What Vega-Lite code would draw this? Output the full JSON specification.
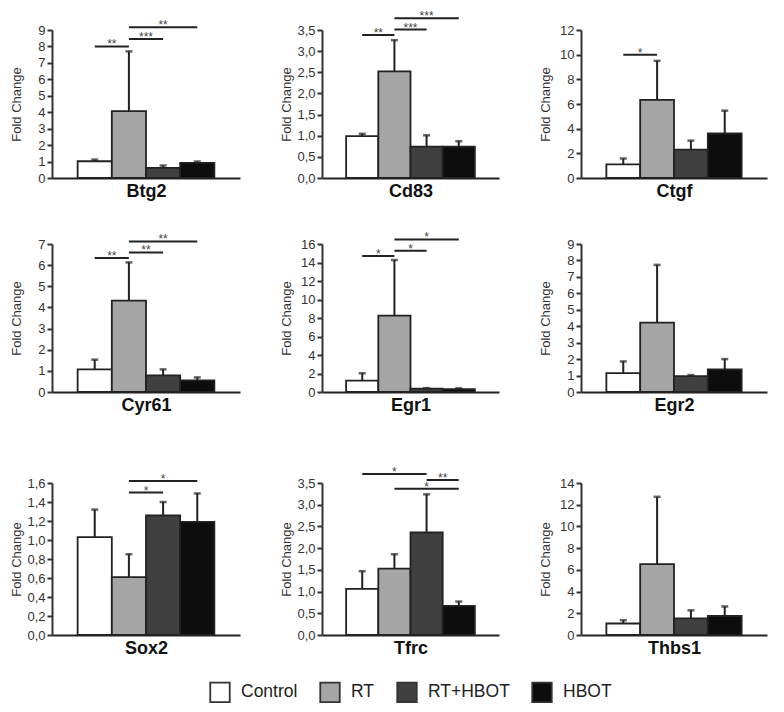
{
  "$schema": "https://vega.github.io/schema/vega-lite/v6.json",
  "background": "white",
  "padding": {"left": 10, "top": 10, "right": 5, "bottom": 5},
  "datasets": {
    "bars": [
      {"gene": "Btg2", "group": "Control", "mean": 1.02, "upper": 1.12},
      {"gene": "Btg2", "group": "RT", "mean": 4.07, "upper": 7.7},
      {"gene": "Btg2", "group": "RT+HBOT", "mean": 0.62, "upper": 0.76},
      {"gene": "Btg2", "group": "HBOT", "mean": 0.92, "upper": 1.0},
      {"gene": "Cd83", "group": "Control", "mean": 0.99, "upper": 1.045},
      {"gene": "Cd83", "group": "RT", "mean": 2.52, "upper": 3.26},
      {"gene": "Cd83", "group": "RT+HBOT", "mean": 0.74, "upper": 1.01},
      {"gene": "Cd83", "group": "HBOT", "mean": 0.74, "upper": 0.87},
      {"gene": "Ctgf", "group": "Control", "mean": 1.11, "upper": 1.58},
      {"gene": "Ctgf", "group": "RT", "mean": 6.33, "upper": 9.5},
      {"gene": "Ctgf", "group": "RT+HBOT", "mean": 2.3, "upper": 3.03},
      {"gene": "Ctgf", "group": "HBOT", "mean": 3.61, "upper": 5.46},
      {"gene": "Cyr61", "group": "Control", "mean": 1.07, "upper": 1.53},
      {"gene": "Cyr61", "group": "RT", "mean": 4.32, "upper": 6.13},
      {"gene": "Cyr61", "group": "RT+HBOT", "mean": 0.79, "upper": 1.07},
      {"gene": "Cyr61", "group": "HBOT", "mean": 0.55, "upper": 0.69},
      {"gene": "Egr1", "group": "Control", "mean": 1.24, "upper": 2.03},
      {"gene": "Egr1", "group": "RT", "mean": 8.26, "upper": 14.27},
      {"gene": "Egr1", "group": "RT+HBOT", "mean": 0.36, "upper": 0.42},
      {"gene": "Egr1", "group": "HBOT", "mean": 0.32, "upper": 0.4},
      {"gene": "Egr2", "group": "Control", "mean": 1.15, "upper": 1.86},
      {"gene": "Egr2", "group": "RT", "mean": 4.22, "upper": 7.73},
      {"gene": "Egr2", "group": "RT+HBOT", "mean": 0.97, "upper": 1.03},
      {"gene": "Egr2", "group": "HBOT", "mean": 1.37, "upper": 2.0},
      {"gene": "Sox2", "group": "Control", "mean": 1.03, "upper": 1.32},
      {"gene": "Sox2", "group": "RT", "mean": 0.61, "upper": 0.85},
      {"gene": "Sox2", "group": "RT+HBOT", "mean": 1.26, "upper": 1.4},
      {"gene": "Sox2", "group": "HBOT", "mean": 1.19, "upper": 1.49},
      {"gene": "Tfrc", "group": "Control", "mean": 1.06, "upper": 1.47},
      {"gene": "Tfrc", "group": "RT", "mean": 1.53, "upper": 1.86},
      {"gene": "Tfrc", "group": "RT+HBOT", "mean": 2.36, "upper": 3.24},
      {"gene": "Tfrc", "group": "HBOT", "mean": 0.67, "upper": 0.77},
      {"gene": "Thbs1", "group": "Control", "mean": 1.06, "upper": 1.36},
      {"gene": "Thbs1", "group": "RT", "mean": 6.53, "upper": 12.73},
      {"gene": "Thbs1", "group": "RT+HBOT", "mean": 1.54, "upper": 2.27},
      {"gene": "Thbs1", "group": "HBOT", "mean": 1.75, "upper": 2.63}
    ],
    "sig": [
      {"gene": "Btg2", "from": "Control", "to": "RT", "level": 8.0, "stars": "**"},
      {"gene": "Btg2", "from": "RT", "to": "RT+HBOT", "level": 8.45, "stars": "***"},
      {"gene": "Btg2", "from": "RT", "to": "HBOT", "level": 9.16, "stars": "**"},
      {"gene": "Cd83", "from": "Control", "to": "RT", "level": 3.38, "stars": "**"},
      {"gene": "Cd83", "from": "RT", "to": "RT+HBOT", "level": 3.51, "stars": "***"},
      {"gene": "Cd83", "from": "RT", "to": "HBOT", "level": 3.78, "stars": "***"},
      {"gene": "Ctgf", "from": "Control", "to": "RT", "level": 10.0, "stars": "*"},
      {"gene": "Cyr61", "from": "Control", "to": "RT", "level": 6.34, "stars": "**"},
      {"gene": "Cyr61", "from": "RT", "to": "RT+HBOT", "level": 6.6, "stars": "**"},
      {"gene": "Cyr61", "from": "RT", "to": "HBOT", "level": 7.12, "stars": "**"},
      {"gene": "Egr1", "from": "Control", "to": "RT", "level": 14.7, "stars": "*"},
      {"gene": "Egr1", "from": "RT", "to": "RT+HBOT", "level": 15.27, "stars": "*"},
      {"gene": "Egr1", "from": "RT", "to": "HBOT", "level": 16.5, "stars": "*"},
      {"gene": "Sox2", "from": "RT", "to": "RT+HBOT", "level": 1.5, "stars": "*"},
      {"gene": "Sox2", "from": "RT", "to": "HBOT", "level": 1.62, "stars": "*"},
      {"gene": "Tfrc", "from": "Control", "to": "RT+HBOT", "level": 3.71, "stars": "*"},
      {"gene": "Tfrc", "from": "RT+HBOT", "to": "HBOT", "level": 3.57, "stars": "**"},
      {"gene": "Tfrc", "from": "RT", "to": "HBOT", "level": 3.37, "stars": "*"}
    ]
  },
  "spacing": 31,
  "vconcat": [
    {
      "hconcat": [
        {
          "width": 188, "height": 148,
          "layer": [
            {"data": {"name": "bars"}, "transform": [{"filter": "datum.gene === 'Btg2'"}], "mark": "bar",
             "encoding": {
               "x": {"field": "group", "type": "nominal", "scale": {"domain": ["Control", "RT", "RT+HBOT", "HBOT"]}, "title": "Btg2"},
               "y": {"field": "mean", "type": "quantitative", "scale": {"domain": [0, 9]}, "axis": {"values": [0, 1, 2, 3, 4, 5, 6, 7, 8, 9], "labelFontSize": 13, "titleFontSize": 13, "labelOverlap": false, "labelFlush": false}, "title": "Fold Change"},
               "color": {"field": "group", "type": "nominal", "scale": {"domain": ["Control", "RT", "RT+HBOT", "HBOT"], "range": ["#ffffff", "#a5a5a5", "#404040", "#0d0d0d"]}}}},
            {"data": {"name": "bars"}, "transform": [{"filter": "datum.gene === 'Btg2'"}], "mark": "rule",
             "encoding": {
               "x": {"field": "group", "type": "nominal", "scale": {"domain": ["Control", "RT", "RT+HBOT", "HBOT"]}, "title": "Btg2"},
               "y": {"field": "mean", "type": "quantitative", "axis": {"values": [0, 1, 2, 3, 4, 5, 6, 7, 8, 9], "labelFontSize": 13, "titleFontSize": 13, "labelOverlap": false, "labelFlush": false}, "title": "Fold Change"}, "y2": {"field": "upper"}}},
            {"data": {"name": "bars"}, "transform": [{"filter": "datum.gene === 'Btg2'"}], "mark": {"type": "tick", "size": 7},
             "encoding": {
               "x": {"field": "group", "type": "nominal", "scale": {"domain": ["Control", "RT", "RT+HBOT", "HBOT"]}, "title": "Btg2"},
               "y": {"field": "upper", "type": "quantitative", "axis": {"values": [0, 1, 2, 3, 4, 5, 6, 7, 8, 9], "labelFontSize": 13, "titleFontSize": 13, "labelOverlap": false, "labelFlush": false}, "title": "Fold Change"}}},
            {"data": {"name": "sig"}, "transform": [{"filter": "datum.gene === 'Btg2'"}], "mark": "rule",
             "encoding": {
               "x": {"field": "from", "type": "nominal", "scale": {"domain": ["Control", "RT", "RT+HBOT", "HBOT"]}, "title": "Btg2"},
               "x2": {"field": "to"},
               "y": {"field": "level", "type": "quantitative", "axis": {"values": [0, 1, 2, 3, 4, 5, 6, 7, 8, 9], "labelFontSize": 13, "titleFontSize": 13, "labelOverlap": false, "labelFlush": false}, "title": "Fold Change"}}},
            {"data": {"name": "sig"}, "transform": [{"filter": "datum.gene === 'Btg2' && indexof(['Control','RT','RT+HBOT','HBOT'], datum.to) - indexof(['Control','RT','RT+HBOT','HBOT'], datum.from) === 1"}], "mark": {"type": "text", "fontSize": 12, "color": "#444444", "baseline": "alphabetic", "dy": 2},
             "encoding": {
               "x": {"field": "from", "type": "nominal", "bandPosition": 1, "scale": {"domain": ["Control", "RT", "RT+HBOT", "HBOT"]}, "title": "Btg2"},
               "y": {"field": "level", "type": "quantitative", "axis": {"values": [0, 1, 2, 3, 4, 5, 6, 7, 8, 9], "labelFontSize": 13, "titleFontSize": 13, "labelOverlap": false, "labelFlush": false}, "title": "Fold Change"},
               "text": {"field": "stars"}}},
            {"data": {"name": "sig"}, "transform": [{"filter": "datum.gene === 'Btg2' && indexof(['Control','RT','RT+HBOT','HBOT'], datum.to) - indexof(['Control','RT','RT+HBOT','HBOT'], datum.from) === 2"}], "mark": {"type": "text", "fontSize": 12, "color": "#444444", "baseline": "alphabetic", "dy": 2},
             "encoding": {
               "x": {"field": "from", "type": "nominal", "bandPosition": 1.5, "scale": {"domain": ["Control", "RT", "RT+HBOT", "HBOT"]}, "title": "Btg2"},
               "y": {"field": "level", "type": "quantitative", "axis": {"values": [0, 1, 2, 3, 4, 5, 6, 7, 8, 9], "labelFontSize": 13, "titleFontSize": 13, "labelOverlap": false, "labelFlush": false}, "title": "Fold Change"},
               "text": {"field": "stars"}}}
          ]
        },
        {
          "width": 177, "height": 148,
          "layer": [
            {"data": {"name": "bars"}, "transform": [{"filter": "datum.gene === 'Cd83'"}], "mark": "bar",
             "encoding": {
               "x": {"field": "group", "type": "nominal", "scale": {"domain": ["Control", "RT", "RT+HBOT", "HBOT"]}, "title": "Cd83"},
               "y": {"field": "mean", "type": "quantitative", "scale": {"domain": [0, 3.5]}, "axis": {"values": [0, 0.5, 1, 1.5, 2, 2.5, 3, 3.5], "format": ".1f", "labelFontSize": 13, "titleFontSize": 13, "labelOverlap": false, "labelFlush": false}, "title": "Fold Change"},
               "color": {"field": "group", "type": "nominal", "scale": {"domain": ["Control", "RT", "RT+HBOT", "HBOT"], "range": ["#ffffff", "#a5a5a5", "#404040", "#0d0d0d"]}}}},
            {"data": {"name": "bars"}, "transform": [{"filter": "datum.gene === 'Cd83'"}], "mark": "rule",
             "encoding": {
               "x": {"field": "group", "type": "nominal", "scale": {"domain": ["Control", "RT", "RT+HBOT", "HBOT"]}, "title": "Cd83"},
               "y": {"field": "mean", "type": "quantitative", "axis": {"values": [0, 0.5, 1, 1.5, 2, 2.5, 3, 3.5], "format": ".1f", "labelFontSize": 13, "titleFontSize": 13, "labelOverlap": false, "labelFlush": false}, "title": "Fold Change"}, "y2": {"field": "upper"}}},
            {"data": {"name": "bars"}, "transform": [{"filter": "datum.gene === 'Cd83'"}], "mark": {"type": "tick", "size": 7},
             "encoding": {
               "x": {"field": "group", "type": "nominal", "scale": {"domain": ["Control", "RT", "RT+HBOT", "HBOT"]}, "title": "Cd83"},
               "y": {"field": "upper", "type": "quantitative", "axis": {"values": [0, 0.5, 1, 1.5, 2, 2.5, 3, 3.5], "format": ".1f", "labelFontSize": 13, "titleFontSize": 13, "labelOverlap": false, "labelFlush": false}, "title": "Fold Change"}}},
            {"data": {"name": "sig"}, "transform": [{"filter": "datum.gene === 'Cd83'"}], "mark": "rule",
             "encoding": {
               "x": {"field": "from", "type": "nominal", "scale": {"domain": ["Control", "RT", "RT+HBOT", "HBOT"]}, "title": "Cd83"},
               "x2": {"field": "to"},
               "y": {"field": "level", "type": "quantitative", "axis": {"values": [0, 0.5, 1, 1.5, 2, 2.5, 3, 3.5], "format": ".1f", "labelFontSize": 13, "titleFontSize": 13, "labelOverlap": false, "labelFlush": false}, "title": "Fold Change"}}},
            {"data": {"name": "sig"}, "transform": [{"filter": "datum.gene === 'Cd83' && indexof(['Control','RT','RT+HBOT','HBOT'], datum.to) - indexof(['Control','RT','RT+HBOT','HBOT'], datum.from) === 1"}], "mark": {"type": "text", "fontSize": 12, "color": "#444444", "baseline": "alphabetic", "dy": 2},
             "encoding": {
               "x": {"field": "from", "type": "nominal", "bandPosition": 1, "scale": {"domain": ["Control", "RT", "RT+HBOT", "HBOT"]}, "title": "Cd83"},
               "y": {"field": "level", "type": "quantitative", "axis": {"values": [0, 0.5, 1, 1.5, 2, 2.5, 3, 3.5], "format": ".1f", "labelFontSize": 13, "titleFontSize": 13, "labelOverlap": false, "labelFlush": false}, "title": "Fold Change"},
               "text": {"field": "stars"}}},
            {"data": {"name": "sig"}, "transform": [{"filter": "datum.gene === 'Cd83' && indexof(['Control','RT','RT+HBOT','HBOT'], datum.to) - indexof(['Control','RT','RT+HBOT','HBOT'], datum.from) === 2"}], "mark": {"type": "text", "fontSize": 12, "color": "#444444", "baseline": "alphabetic", "dy": 2},
             "encoding": {
               "x": {"field": "from", "type": "nominal", "bandPosition": 1.5, "scale": {"domain": ["Control", "RT", "RT+HBOT", "HBOT"]}, "title": "Cd83"},
               "y": {"field": "level", "type": "quantitative", "axis": {"values": [0, 0.5, 1, 1.5, 2, 2.5, 3, 3.5], "format": ".1f", "labelFontSize": 13, "titleFontSize": 13, "labelOverlap": false, "labelFlush": false}, "title": "Fold Change"},
               "text": {"field": "stars"}}}
          ]
        },
        {
          "width": 186, "height": 148,
          "layer": [
            {"data": {"name": "bars"}, "transform": [{"filter": "datum.gene === 'Ctgf'"}], "mark": "bar",
             "encoding": {
               "x": {"field": "group", "type": "nominal", "scale": {"domain": ["Control", "RT", "RT+HBOT", "HBOT"]}, "title": "Ctgf"},
               "y": {"field": "mean", "type": "quantitative", "scale": {"domain": [0, 12]}, "axis": {"values": [0, 2, 4, 6, 8, 10, 12], "labelFontSize": 13, "titleFontSize": 13, "labelOverlap": false, "labelFlush": false}, "title": "Fold Change"},
               "color": {"field": "group", "type": "nominal", "scale": {"domain": ["Control", "RT", "RT+HBOT", "HBOT"], "range": ["#ffffff", "#a5a5a5", "#404040", "#0d0d0d"]}}}},
            {"data": {"name": "bars"}, "transform": [{"filter": "datum.gene === 'Ctgf'"}], "mark": "rule",
             "encoding": {
               "x": {"field": "group", "type": "nominal", "scale": {"domain": ["Control", "RT", "RT+HBOT", "HBOT"]}, "title": "Ctgf"},
               "y": {"field": "mean", "type": "quantitative", "axis": {"values": [0, 2, 4, 6, 8, 10, 12], "labelFontSize": 13, "titleFontSize": 13, "labelOverlap": false, "labelFlush": false}, "title": "Fold Change"}, "y2": {"field": "upper"}}},
            {"data": {"name": "bars"}, "transform": [{"filter": "datum.gene === 'Ctgf'"}], "mark": {"type": "tick", "size": 7},
             "encoding": {
               "x": {"field": "group", "type": "nominal", "scale": {"domain": ["Control", "RT", "RT+HBOT", "HBOT"]}, "title": "Ctgf"},
               "y": {"field": "upper", "type": "quantitative", "axis": {"values": [0, 2, 4, 6, 8, 10, 12], "labelFontSize": 13, "titleFontSize": 13, "labelOverlap": false, "labelFlush": false}, "title": "Fold Change"}}},
            {"data": {"name": "sig"}, "transform": [{"filter": "datum.gene === 'Ctgf'"}], "mark": "rule",
             "encoding": {
               "x": {"field": "from", "type": "nominal", "scale": {"domain": ["Control", "RT", "RT+HBOT", "HBOT"]}, "title": "Ctgf"},
               "x2": {"field": "to"},
               "y": {"field": "level", "type": "quantitative", "axis": {"values": [0, 2, 4, 6, 8, 10, 12], "labelFontSize": 13, "titleFontSize": 13, "labelOverlap": false, "labelFlush": false}, "title": "Fold Change"}}},
            {"data": {"name": "sig"}, "transform": [{"filter": "datum.gene === 'Ctgf'"}], "mark": {"type": "text", "fontSize": 12, "color": "#444444", "baseline": "alphabetic", "dy": 2},
             "encoding": {
               "x": {"field": "from", "type": "nominal", "bandPosition": 1, "scale": {"domain": ["Control", "RT", "RT+HBOT", "HBOT"]}, "title": "Ctgf"},
               "y": {"field": "level", "type": "quantitative", "axis": {"values": [0, 2, 4, 6, 8, 10, 12], "labelFontSize": 13, "titleFontSize": 13, "labelOverlap": false, "labelFlush": false}, "title": "Fold Change"},
               "text": {"field": "stars"}}}
          ]
        }
      ],
      "spacing": 40
    },
    {
      "spacing": 51,
      "vconcat": [
        {
          "hconcat": [
            {
              "width": 188, "height": 148,
              "layer": [
                {"data": {"name": "bars"}, "transform": [{"filter": "datum.gene === 'Cyr61'"}], "mark": "bar",
                 "encoding": {
                   "x": {"field": "group", "type": "nominal", "scale": {"domain": ["Control", "RT", "RT+HBOT", "HBOT"]}, "title": "Cyr61"},
                   "y": {"field": "mean", "type": "quantitative", "scale": {"domain": [0, 7]}, "axis": {"values": [0, 1, 2, 3, 4, 5, 6, 7], "labelFontSize": 13, "titleFontSize": 13, "labelOverlap": false, "labelFlush": false}, "title": "Fold Change"},
                   "color": {"field": "group", "type": "nominal", "scale": {"domain": ["Control", "RT", "RT+HBOT", "HBOT"], "range": ["#ffffff", "#a5a5a5", "#404040", "#0d0d0d"]}}}},
                {"data": {"name": "bars"}, "transform": [{"filter": "datum.gene === 'Cyr61'"}], "mark": "rule",
                 "encoding": {
                   "x": {"field": "group", "type": "nominal", "scale": {"domain": ["Control", "RT", "RT+HBOT", "HBOT"]}, "title": "Cyr61"},
                   "y": {"field": "mean", "type": "quantitative", "axis": {"values": [0, 1, 2, 3, 4, 5, 6, 7], "labelFontSize": 13, "titleFontSize": 13, "labelOverlap": false, "labelFlush": false}, "title": "Fold Change"}, "y2": {"field": "upper"}}},
                {"data": {"name": "bars"}, "transform": [{"filter": "datum.gene === 'Cyr61'"}], "mark": {"type": "tick", "size": 7},
                 "encoding": {
                   "x": {"field": "group", "type": "nominal", "scale": {"domain": ["Control", "RT", "RT+HBOT", "HBOT"]}, "title": "Cyr61"},
                   "y": {"field": "upper", "type": "quantitative", "axis": {"values": [0, 1, 2, 3, 4, 5, 6, 7], "labelFontSize": 13, "titleFontSize": 13, "labelOverlap": false, "labelFlush": false}, "title": "Fold Change"}}},
                {"data": {"name": "sig"}, "transform": [{"filter": "datum.gene === 'Cyr61'"}], "mark": "rule",
                 "encoding": {
                   "x": {"field": "from", "type": "nominal", "scale": {"domain": ["Control", "RT", "RT+HBOT", "HBOT"]}, "title": "Cyr61"},
                   "x2": {"field": "to"},
                   "y": {"field": "level", "type": "quantitative", "axis": {"values": [0, 1, 2, 3, 4, 5, 6, 7], "labelFontSize": 13, "titleFontSize": 13, "labelOverlap": false, "labelFlush": false}, "title": "Fold Change"}}},
                {"data": {"name": "sig"}, "transform": [{"filter": "datum.gene === 'Cyr61' && indexof(['Control','RT','RT+HBOT','HBOT'], datum.to) - indexof(['Control','RT','RT+HBOT','HBOT'], datum.from) === 1"}], "mark": {"type": "text", "fontSize": 12, "color": "#444444", "baseline": "alphabetic", "dy": 2},
                 "encoding": {
                   "x": {"field": "from", "type": "nominal", "bandPosition": 1, "scale": {"domain": ["Control", "RT", "RT+HBOT", "HBOT"]}, "title": "Cyr61"},
                   "y": {"field": "level", "type": "quantitative", "axis": {"values": [0, 1, 2, 3, 4, 5, 6, 7], "labelFontSize": 13, "titleFontSize": 13, "labelOverlap": false, "labelFlush": false}, "title": "Fold Change"},
                   "text": {"field": "stars"}}},
                {"data": {"name": "sig"}, "transform": [{"filter": "datum.gene === 'Cyr61' && indexof(['Control','RT','RT+HBOT','HBOT'], datum.to) - indexof(['Control','RT','RT+HBOT','HBOT'], datum.from) === 2"}], "mark": {"type": "text", "fontSize": 12, "color": "#444444", "baseline": "alphabetic", "dy": 2},
                 "encoding": {
                   "x": {"field": "from", "type": "nominal", "bandPosition": 1.5, "scale": {"domain": ["Control", "RT", "RT+HBOT", "HBOT"]}, "title": "Cyr61"},
                   "y": {"field": "level", "type": "quantitative", "axis": {"values": [0, 1, 2, 3, 4, 5, 6, 7], "labelFontSize": 13, "titleFontSize": 13, "labelOverlap": false, "labelFlush": false}, "title": "Fold Change"},
                   "text": {"field": "stars"}}}
              ]
            },
            {
              "width": 177, "height": 148,
              "layer": [
                {"data": {"name": "bars"}, "transform": [{"filter": "datum.gene === 'Egr1'"}], "mark": "bar",
                 "encoding": {
                   "x": {"field": "group", "type": "nominal", "scale": {"domain": ["Control", "RT", "RT+HBOT", "HBOT"]}, "title": "Egr1"},
                   "y": {"field": "mean", "type": "quantitative", "scale": {"domain": [0, 16]}, "axis": {"values": [0, 2, 4, 6, 8, 10, 12, 14, 16], "labelFontSize": 13, "titleFontSize": 13, "labelOverlap": false, "labelFlush": false}, "title": "Fold Change"},
                   "color": {"field": "group", "type": "nominal", "scale": {"domain": ["Control", "RT", "RT+HBOT", "HBOT"], "range": ["#ffffff", "#a5a5a5", "#404040", "#0d0d0d"]}}}},
                {"data": {"name": "bars"}, "transform": [{"filter": "datum.gene === 'Egr1'"}], "mark": "rule",
                 "encoding": {
                   "x": {"field": "group", "type": "nominal", "scale": {"domain": ["Control", "RT", "RT+HBOT", "HBOT"]}, "title": "Egr1"},
                   "y": {"field": "mean", "type": "quantitative", "axis": {"values": [0, 2, 4, 6, 8, 10, 12, 14, 16], "labelFontSize": 13, "titleFontSize": 13, "labelOverlap": false, "labelFlush": false}, "title": "Fold Change"}, "y2": {"field": "upper"}}},
                {"data": {"name": "bars"}, "transform": [{"filter": "datum.gene === 'Egr1'"}], "mark": {"type": "tick", "size": 7},
                 "encoding": {
                   "x": {"field": "group", "type": "nominal", "scale": {"domain": ["Control", "RT", "RT+HBOT", "HBOT"]}, "title": "Egr1"},
                   "y": {"field": "upper", "type": "quantitative", "axis": {"values": [0, 2, 4, 6, 8, 10, 12, 14, 16], "labelFontSize": 13, "titleFontSize": 13, "labelOverlap": false, "labelFlush": false}, "title": "Fold Change"}}},
                {"data": {"name": "sig"}, "transform": [{"filter": "datum.gene === 'Egr1'"}], "mark": "rule",
                 "encoding": {
                   "x": {"field": "from", "type": "nominal", "scale": {"domain": ["Control", "RT", "RT+HBOT", "HBOT"]}, "title": "Egr1"},
                   "x2": {"field": "to"},
                   "y": {"field": "level", "type": "quantitative", "axis": {"values": [0, 2, 4, 6, 8, 10, 12, 14, 16], "labelFontSize": 13, "titleFontSize": 13, "labelOverlap": false, "labelFlush": false}, "title": "Fold Change"}}},
                {"data": {"name": "sig"}, "transform": [{"filter": "datum.gene === 'Egr1' && indexof(['Control','RT','RT+HBOT','HBOT'], datum.to) - indexof(['Control','RT','RT+HBOT','HBOT'], datum.from) === 1"}], "mark": {"type": "text", "fontSize": 12, "color": "#444444", "baseline": "alphabetic", "dy": 2},
                 "encoding": {
                   "x": {"field": "from", "type": "nominal", "bandPosition": 1, "scale": {"domain": ["Control", "RT", "RT+HBOT", "HBOT"]}, "title": "Egr1"},
                   "y": {"field": "level", "type": "quantitative", "axis": {"values": [0, 2, 4, 6, 8, 10, 12, 14, 16], "labelFontSize": 13, "titleFontSize": 13, "labelOverlap": false, "labelFlush": false}, "title": "Fold Change"},
                   "text": {"field": "stars"}}},
                {"data": {"name": "sig"}, "transform": [{"filter": "datum.gene === 'Egr1' && indexof(['Control','RT','RT+HBOT','HBOT'], datum.to) - indexof(['Control','RT','RT+HBOT','HBOT'], datum.from) === 2"}], "mark": {"type": "text", "fontSize": 12, "color": "#444444", "baseline": "alphabetic", "dy": 2},
                 "encoding": {
                   "x": {"field": "from", "type": "nominal", "bandPosition": 1.5, "scale": {"domain": ["Control", "RT", "RT+HBOT", "HBOT"]}, "title": "Egr1"},
                   "y": {"field": "level", "type": "quantitative", "axis": {"values": [0, 2, 4, 6, 8, 10, 12, 14, 16], "labelFontSize": 13, "titleFontSize": 13, "labelOverlap": false, "labelFlush": false}, "title": "Fold Change"},
                   "text": {"field": "stars"}}}
              ]
            },
            {
              "width": 186, "height": 148,
              "layer": [
                {"data": {"name": "bars"}, "transform": [{"filter": "datum.gene === 'Egr2'"}], "mark": "bar",
                 "encoding": {
                   "x": {"field": "group", "type": "nominal", "scale": {"domain": ["Control", "RT", "RT+HBOT", "HBOT"]}, "title": "Egr2"},
                   "y": {"field": "mean", "type": "quantitative", "scale": {"domain": [0, 9]}, "axis": {"values": [0, 1, 2, 3, 4, 5, 6, 7, 8, 9], "labelFontSize": 13, "titleFontSize": 13, "labelOverlap": false, "labelFlush": false}, "title": "Fold Change"},
                   "color": {"field": "group", "type": "nominal", "scale": {"domain": ["Control", "RT", "RT+HBOT", "HBOT"], "range": ["#ffffff", "#a5a5a5", "#404040", "#0d0d0d"]}}}},
                {"data": {"name": "bars"}, "transform": [{"filter": "datum.gene === 'Egr2'"}], "mark": "rule",
                 "encoding": {
                   "x": {"field": "group", "type": "nominal", "scale": {"domain": ["Control", "RT", "RT+HBOT", "HBOT"]}, "title": "Egr2"},
                   "y": {"field": "mean", "type": "quantitative", "axis": {"values": [0, 1, 2, 3, 4, 5, 6, 7, 8, 9], "labelFontSize": 13, "titleFontSize": 13, "labelOverlap": false, "labelFlush": false}, "title": "Fold Change"}, "y2": {"field": "upper"}}},
                {"data": {"name": "bars"}, "transform": [{"filter": "datum.gene === 'Egr2'"}], "mark": {"type": "tick", "size": 7},
                 "encoding": {
                   "x": {"field": "group", "type": "nominal", "scale": {"domain": ["Control", "RT", "RT+HBOT", "HBOT"]}, "title": "Egr2"},
                   "y": {"field": "upper", "type": "quantitative", "axis": {"values": [0, 1, 2, 3, 4, 5, 6, 7, 8, 9], "labelFontSize": 13, "titleFontSize": 13, "labelOverlap": false, "labelFlush": false}, "title": "Fold Change"}}}
              ]
            }
          ],
          "spacing": 40
        },
        {
          "hconcat": [
            {
              "width": 188, "height": 152,
              "layer": [
                {"data": {"name": "bars"}, "transform": [{"filter": "datum.gene === 'Sox2'"}], "mark": "bar",
                 "encoding": {
                   "x": {"field": "group", "type": "nominal", "scale": {"domain": ["Control", "RT", "RT+HBOT", "HBOT"]}, "title": "Sox2"},
                   "y": {"field": "mean", "type": "quantitative", "scale": {"domain": [0, 1.6]}, "axis": {"values": [0, 0.2, 0.4, 0.6, 0.8, 1.0, 1.2, 1.4, 1.6], "format": ".1f", "labelFontSize": 13, "titleFontSize": 13, "labelOverlap": false, "labelFlush": false}, "title": "Fold Change"},
                   "color": {"field": "group", "type": "nominal", "scale": {"domain": ["Control", "RT", "RT+HBOT", "HBOT"], "range": ["#ffffff", "#a5a5a5", "#404040", "#0d0d0d"]}}}},
                {"data": {"name": "bars"}, "transform": [{"filter": "datum.gene === 'Sox2'"}], "mark": "rule",
                 "encoding": {
                   "x": {"field": "group", "type": "nominal", "scale": {"domain": ["Control", "RT", "RT+HBOT", "HBOT"]}, "title": "Sox2"},
                   "y": {"field": "mean", "type": "quantitative", "axis": {"values": [0, 0.2, 0.4, 0.6, 0.8, 1.0, 1.2, 1.4, 1.6], "format": ".1f", "labelFontSize": 13, "titleFontSize": 13, "labelOverlap": false, "labelFlush": false}, "title": "Fold Change"}, "y2": {"field": "upper"}}},
                {"data": {"name": "bars"}, "transform": [{"filter": "datum.gene === 'Sox2'"}], "mark": {"type": "tick", "size": 7},
                 "encoding": {
                   "x": {"field": "group", "type": "nominal", "scale": {"domain": ["Control", "RT", "RT+HBOT", "HBOT"]}, "title": "Sox2"},
                   "y": {"field": "upper", "type": "quantitative", "axis": {"values": [0, 0.2, 0.4, 0.6, 0.8, 1.0, 1.2, 1.4, 1.6], "format": ".1f", "labelFontSize": 13, "titleFontSize": 13, "labelOverlap": false, "labelFlush": false}, "title": "Fold Change"}}},
                {"data": {"name": "sig"}, "transform": [{"filter": "datum.gene === 'Sox2'"}], "mark": "rule",
                 "encoding": {
                   "x": {"field": "from", "type": "nominal", "scale": {"domain": ["Control", "RT", "RT+HBOT", "HBOT"]}, "title": "Sox2"},
                   "x2": {"field": "to"},
                   "y": {"field": "level", "type": "quantitative", "axis": {"values": [0, 0.2, 0.4, 0.6, 0.8, 1.0, 1.2, 1.4, 1.6], "format": ".1f", "labelFontSize": 13, "titleFontSize": 13, "labelOverlap": false, "labelFlush": false}, "title": "Fold Change"}}},
                {"data": {"name": "sig"}, "transform": [{"filter": "datum.gene === 'Sox2' && indexof(['Control','RT','RT+HBOT','HBOT'], datum.to) - indexof(['Control','RT','RT+HBOT','HBOT'], datum.from) === 1"}], "mark": {"type": "text", "fontSize": 12, "color": "#444444", "baseline": "alphabetic", "dy": 2},
                 "encoding": {
                   "x": {"field": "from", "type": "nominal", "bandPosition": 1, "scale": {"domain": ["Control", "RT", "RT+HBOT", "HBOT"]}, "title": "Sox2"},
                   "y": {"field": "level", "type": "quantitative", "axis": {"values": [0, 0.2, 0.4, 0.6, 0.8, 1.0, 1.2, 1.4, 1.6], "format": ".1f", "labelFontSize": 13, "titleFontSize": 13, "labelOverlap": false, "labelFlush": false}, "title": "Fold Change"},
                   "text": {"field": "stars"}}},
                {"data": {"name": "sig"}, "transform": [{"filter": "datum.gene === 'Sox2' && indexof(['Control','RT','RT+HBOT','HBOT'], datum.to) - indexof(['Control','RT','RT+HBOT','HBOT'], datum.from) === 2"}], "mark": {"type": "text", "fontSize": 12, "color": "#444444", "baseline": "alphabetic", "dy": 2},
                 "encoding": {
                   "x": {"field": "from", "type": "nominal", "bandPosition": 1.5, "scale": {"domain": ["Control", "RT", "RT+HBOT", "HBOT"]}, "title": "Sox2"},
                   "y": {"field": "level", "type": "quantitative", "axis": {"values": [0, 0.2, 0.4, 0.6, 0.8, 1.0, 1.2, 1.4, 1.6], "format": ".1f", "labelFontSize": 13, "titleFontSize": 13, "labelOverlap": false, "labelFlush": false}, "title": "Fold Change"},
                   "text": {"field": "stars"}}}
              ]
            },
            {
              "width": 177, "height": 152,
              "layer": [
                {"data": {"name": "bars"}, "transform": [{"filter": "datum.gene === 'Tfrc'"}], "mark": "bar",
                 "encoding": {
                   "x": {"field": "group", "type": "nominal", "scale": {"domain": ["Control", "RT", "RT+HBOT", "HBOT"]}, "title": "Tfrc"},
                   "y": {"field": "mean", "type": "quantitative", "scale": {"domain": [0, 3.5]}, "axis": {"values": [0, 0.5, 1, 1.5, 2, 2.5, 3, 3.5], "format": ".1f", "labelFontSize": 13, "titleFontSize": 13, "labelOverlap": false, "labelFlush": false}, "title": "Fold Change"},
                   "color": {"field": "group", "type": "nominal", "scale": {"domain": ["Control", "RT", "RT+HBOT", "HBOT"], "range": ["#ffffff", "#a5a5a5", "#404040", "#0d0d0d"]}}}},
                {"data": {"name": "bars"}, "transform": [{"filter": "datum.gene === 'Tfrc'"}], "mark": "rule",
                 "encoding": {
                   "x": {"field": "group", "type": "nominal", "scale": {"domain": ["Control", "RT", "RT+HBOT", "HBOT"]}, "title": "Tfrc"},
                   "y": {"field": "mean", "type": "quantitative", "axis": {"values": [0, 0.5, 1, 1.5, 2, 2.5, 3, 3.5], "format": ".1f", "labelFontSize": 13, "titleFontSize": 13, "labelOverlap": false, "labelFlush": false}, "title": "Fold Change"}, "y2": {"field": "upper"}}},
                {"data": {"name": "bars"}, "transform": [{"filter": "datum.gene === 'Tfrc'"}], "mark": {"type": "tick", "size": 7},
                 "encoding": {
                   "x": {"field": "group", "type": "nominal", "scale": {"domain": ["Control", "RT", "RT+HBOT", "HBOT"]}, "title": "Tfrc"},
                   "y": {"field": "upper", "type": "quantitative", "axis": {"values": [0, 0.5, 1, 1.5, 2, 2.5, 3, 3.5], "format": ".1f", "labelFontSize": 13, "titleFontSize": 13, "labelOverlap": false, "labelFlush": false}, "title": "Fold Change"}}},
                {"data": {"name": "sig"}, "transform": [{"filter": "datum.gene === 'Tfrc'"}], "mark": "rule",
                 "encoding": {
                   "x": {"field": "from", "type": "nominal", "scale": {"domain": ["Control", "RT", "RT+HBOT", "HBOT"]}, "title": "Tfrc"},
                   "x2": {"field": "to"},
                   "y": {"field": "level", "type": "quantitative", "axis": {"values": [0, 0.5, 1, 1.5, 2, 2.5, 3, 3.5], "format": ".1f", "labelFontSize": 13, "titleFontSize": 13, "labelOverlap": false, "labelFlush": false}, "title": "Fold Change"}}},
                {"data": {"name": "sig"}, "transform": [{"filter": "datum.gene === 'Tfrc' && indexof(['Control','RT','RT+HBOT','HBOT'], datum.to) - indexof(['Control','RT','RT+HBOT','HBOT'], datum.from) === 1"}], "mark": {"type": "text", "fontSize": 12, "color": "#444444", "baseline": "alphabetic", "dy": 2},
                 "encoding": {
                   "x": {"field": "from", "type": "nominal", "bandPosition": 1, "scale": {"domain": ["Control", "RT", "RT+HBOT", "HBOT"]}, "title": "Tfrc"},
                   "y": {"field": "level", "type": "quantitative", "axis": {"values": [0, 0.5, 1, 1.5, 2, 2.5, 3, 3.5], "format": ".1f", "labelFontSize": 13, "titleFontSize": 13, "labelOverlap": false, "labelFlush": false}, "title": "Fold Change"},
                   "text": {"field": "stars"}}},
                {"data": {"name": "sig"}, "transform": [{"filter": "datum.gene === 'Tfrc' && indexof(['Control','RT','RT+HBOT','HBOT'], datum.to) - indexof(['Control','RT','RT+HBOT','HBOT'], datum.from) === 2"}], "mark": {"type": "text", "fontSize": 12, "color": "#444444", "baseline": "alphabetic", "dy": 2},
                 "encoding": {
                   "x": {"field": "from", "type": "nominal", "bandPosition": 1.5, "scale": {"domain": ["Control", "RT", "RT+HBOT", "HBOT"]}, "title": "Tfrc"},
                   "y": {"field": "level", "type": "quantitative", "axis": {"values": [0, 0.5, 1, 1.5, 2, 2.5, 3, 3.5], "format": ".1f", "labelFontSize": 13, "titleFontSize": 13, "labelOverlap": false, "labelFlush": false}, "title": "Fold Change"},
                   "text": {"field": "stars"}}}
              ]
            },
            {
              "width": 186, "height": 152,
              "layer": [
                {"data": {"name": "bars"}, "transform": [{"filter": "datum.gene === 'Thbs1'"}], "mark": "bar",
                 "encoding": {
                   "x": {"field": "group", "type": "nominal", "scale": {"domain": ["Control", "RT", "RT+HBOT", "HBOT"]}, "title": "Thbs1"},
                   "y": {"field": "mean", "type": "quantitative", "scale": {"domain": [0, 14]}, "axis": {"values": [0, 2, 4, 6, 8, 10, 12, 14], "labelFontSize": 13, "titleFontSize": 13, "labelOverlap": false, "labelFlush": false}, "title": "Fold Change"},
                   "color": {"field": "group", "type": "nominal", "scale": {"domain": ["Control", "RT", "RT+HBOT", "HBOT"], "range": ["#ffffff", "#a5a5a5", "#404040", "#0d0d0d"]}}}},
                {"data": {"name": "bars"}, "transform": [{"filter": "datum.gene === 'Thbs1'"}], "mark": "rule",
                 "encoding": {
                   "x": {"field": "group", "type": "nominal", "scale": {"domain": ["Control", "RT", "RT+HBOT", "HBOT"]}, "title": "Thbs1"},
                   "y": {"field": "mean", "type": "quantitative", "axis": {"values": [0, 2, 4, 6, 8, 10, 12, 14], "labelFontSize": 13, "titleFontSize": 13, "labelOverlap": false, "labelFlush": false}, "title": "Fold Change"}, "y2": {"field": "upper"}}},
                {"data": {"name": "bars"}, "transform": [{"filter": "datum.gene === 'Thbs1'"}], "mark": {"type": "tick", "size": 7},
                 "encoding": {
                   "x": {"field": "group", "type": "nominal", "scale": {"domain": ["Control", "RT", "RT+HBOT", "HBOT"]}, "title": "Thbs1"},
                   "y": {"field": "upper", "type": "quantitative", "axis": {"values": [0, 2, 4, 6, 8, 10, 12, 14], "labelFontSize": 13, "titleFontSize": 13, "labelOverlap": false, "labelFlush": false}, "title": "Fold Change"}}}
              ]
            }
          ],
          "spacing": 40
        }
      ]
    }
  ],
  "config": {
    "font": "Liberation Sans",
    "locale": {"number": {"decimal": ",", "thousands": ".", "grouping": [3], "currency": ["", " €"]}},
    "view": {"stroke": null},
    "scale": {"bandPaddingInner": 0, "bandPaddingOuter": 0.75},
    "bar": {"stroke": "#222222", "strokeWidth": 1.8},
    "rule": {"color": "#222222", "strokeWidth": 2},
    "tick": {"color": "#222222", "thickness": 2.5},
    "axis": {"labelOverlap": false, "labelFlush": false},
    "axisY": {"grid": false, "domainColor": "#333333", "domainWidth": 2, "tickColor": "#333333", "tickWidth": 2, "tickSize": 5,
              "labelFontSize": 13, "labelColor": "#333333", "labelPadding": 2, "titleFontSize": 13, "titleFontWeight": "normal",
              "titleColor": "#333333", "titlePadding": 3, "minExtent": 26, "maxExtent": 26, "labelOverlap": false, "labelFlush": false},
    "axisX": {"grid": false, "domainColor": "#222222", "domainWidth": 2, "ticks": false, "labels": false,
              "titleFontSize": 18, "titleFontWeight": "bold", "titleColor": "#111111", "titlePadding": 4},
    "legend": {"title": null, "orient": "none", "legendX": 157, "legendY": 651, "direction": "horizontal", "symbolType": "square", "symbolSize": 380,
               "symbolStrokeColor": "#333333", "symbolStrokeWidth": 2, "labelFontSize": 17.5, "labelColor": "#222222",
               "labelOffset": 10, "columnPadding": 18}
  }
}
